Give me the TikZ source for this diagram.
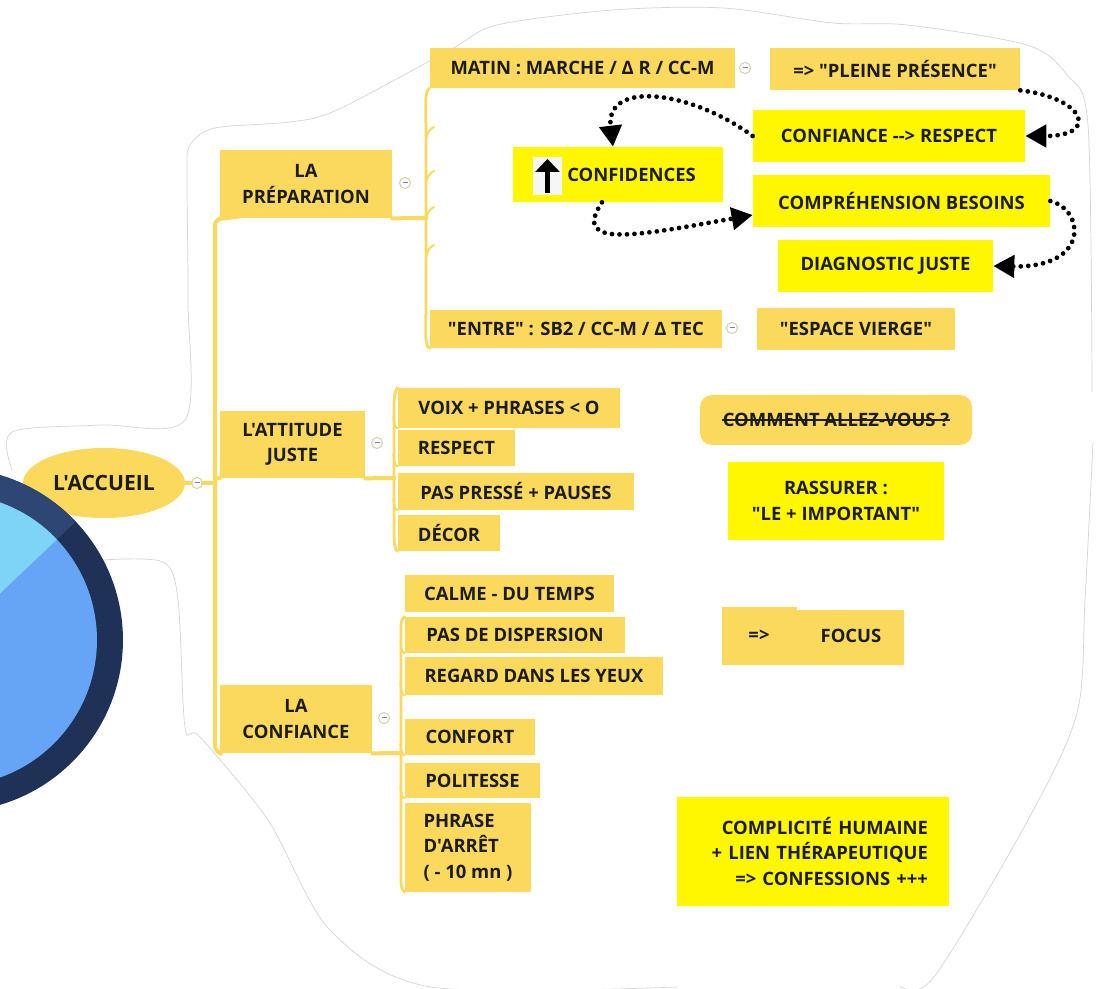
\documentclass[tikz,border=0pt]{standalone}
\usepackage{fontspec}
\setmainfont{Open Sans}[Ligatures=TeXOff]
\usetikzlibrary{arrows.meta,positioning,shapes.geometric}

\definecolor{mapgold}{RGB}{250,217,92}
\definecolor{hiyellow}{RGB}{255,247,0}
\definecolor{inkdark}{RGB}{28,28,28}
\definecolor{ringdark}{RGB}{31,49,87}
\definecolor{ringlight}{RGB}{45,70,115}
\definecolor{pieblue}{RGB}{102,164,246}
\definecolor{piecyan}{RGB}{126,212,245}
\definecolor{foldline}{RGB}{215,210,170}
\definecolor{foldbar}{RGB}{130,120,200}
\definecolor{blobline}{RGB}{212,212,212}

\newcommand{\px}{0.02cm}
\newcommand{\foldmark}{\textcolor{foldbar}{\rule[0.5pt]{0.1cm}{0.6pt}}}

\tikzstyle{lbox} = [rectangle, fill=mapgold, inner sep=0pt, align=center, text=inkdark, font=\bfseries\fontsize{10.5}{14.5}\selectfont]
\tikzstyle{ybox} = [lbox, fill=hiyellow]
\tikzstyle{fold} = [circle, draw=foldline, fill=white, line width=0.6pt, minimum size=11*\px, inner sep=0pt]
\tikzstyle{branch} = [draw=mapgold, line width=0.08cm, line cap=round]
\tikzstyle{twig} = [draw=mapgold, line width=0.055cm, line cap=round]
\tikzstyle{dotarrow} = [line width=0.095cm, dash pattern=on 0pt off 0.15cm, line cap=round, -{Triangle[length=0.42cm,width=0.44cm]}]

\begin{document}
\begin{tikzpicture}[x=\px, y=-\px]
    \useasboundingbox (0,0) rectangle (1096,989);
    \clip (0,0) rectangle (1096,989);
    \fill[white] (0,0) rectangle (1096,989);

    % contour decoupe
    \draw[blobline, line width=0.4pt] plot[smooth, tension=0.5] coordinates {(12,470) (12,432) (100,425) (185,420) (188,300) (187,175) (190,145) (215,128) (290,122) (337,110) (450,50) (497,25) (613,10) (723,8) (833,23) (907,25) (1027,45) (1067,75) (1088,125) (1092,392)};
    \draw[blobline, line width=0.4pt] plot[smooth, tension=0.5] coordinates {(1093,442) (1085,600) (1077,713) (1028,820) (934,977) (900,986)};
    \draw[blobline, line width=0.4pt] plot[smooth, tension=0.5] coordinates {(677,987) (431,987) (330,930) (268,820) (200,737) (185,727) (178,600) (163,562) (103,560)};

    % noeud central
    \node[ellipse, fill=mapgold, minimum width=162*\px, minimum height=70*\px, inner sep=0pt, text=inkdark, font=\bfseries\fontsize{12}{14}\selectfont] (accueil) at (104,483) {L'ACCUEIL};

    % premier niveau
    \node[lbox, minimum width=172*\px, minimum height=68*\px] (prep) at (306,184) {LA\\PRÉPARATION};
    \node[lbox, minimum width=145*\px, minimum height=67*\px] (attitude) at (292.5,444.5) {L'ATTITUDE\\JUSTE};
    \node[lbox, minimum width=152*\px, minimum height=68*\px] (confiance) at (296,719) {LA\\CONFIANCE};

    % la preparation
    \node[lbox, minimum width=305*\px, minimum height=40*\px] (matin) at (582.5,68) {MATIN : MARCHE / Δ R / CC-M};
    \node[lbox, minimum width=250*\px, minimum height=42*\px] (pleine) at (895,69) {=> "PLEINE PRÉSENCE"};
    \node[ybox, minimum width=272*\px, minimum height=52*\px] (conres) at (889,136) {CONFIANCE --> RESPECT};
    \node[ybox, minimum width=210*\px, minimum height=55*\px] (confid) at (618,174.5) {};
    \node[ybox, minimum width=297*\px, minimum height=52*\px] (compr) at (901.5,201) {COMPRÉHENSION BESOINS};
    \node[ybox, minimum width=215*\px, minimum height=52*\px] (diag) at (885.5,266) {DIAGNOSTIC JUSTE};
    \node[lbox, minimum width=292*\px, minimum height=38*\px] (entre) at (576,329) {"ENTRE" : SB2 / CC-M / Δ TEC};
    \node[lbox, minimum width=198*\px, minimum height=42*\px] (espace) at (856,329) {"ESPACE VIERGE"};

    \fill[white!93!gray] (533,157) rectangle (562,195);
    \draw[line width=0.11cm, -{Triangle[length=0.26cm,width=0.48cm]}] (547.5,193) -- (547.5,159);
    \node[lbox, fill=none, anchor=west] (confidtxt) at (567,174.5) {CONFIDENCES};

    % l'attitude juste
    \node[lbox, minimum width=222*\px, minimum height=40*\px] (voix) at (509,408) {VOIX + PHRASES < O};
    \node[lbox, minimum width=117*\px, minimum height=36*\px] (respect) at (456.5,448) {RESPECT};
    \node[lbox, minimum width=236*\px, minimum height=37*\px] (presse) at (516,491.5) {PAS PRESSÉ + PAUSES};
    \node[lbox, minimum width=102*\px, minimum height=36*\px] (decor) at (449,533) {DÉCOR};
    \node[lbox, rounded corners=0.24cm, minimum width=272*\px, minimum height=50*\px] (comment) at (836,420) {};
    \node[lbox, fill=none] (commenttxt) at (comment.center) {COMMENT ALLEZ-VOUS ?};
    \draw[inkdark, line width=0.035cm] (commenttxt.west) -- (commenttxt.east);
    \node[ybox, minimum width=216*\px, minimum height=78*\px] (rassurer) at (836,501) {RASSURER :\\"LE + IMPORTANT"};

    % la confiance
    \node[lbox, minimum width=209*\px, minimum height=37*\px] (calme) at (509.5,593.5) {CALME - DU TEMPS};
    \node[lbox, minimum width=220*\px, minimum height=36*\px] (disp) at (515,635) {PAS DE DISPERSION};
    \node[lbox, minimum width=258*\px, minimum height=38*\px] (regard) at (534,676) {REGARD DANS LES YEUX};
    \node[lbox, minimum width=130*\px, minimum height=36*\px] (confort) at (470,737) {CONFORT};
    \node[lbox, minimum width=135*\px, minimum height=35*\px] (polit) at (472.5,780.5) {POLITESSE};
    \node[lbox, align=left, minimum width=126*\px, minimum height=89*\px] (phrase) at (468,847.5) {PHRASE\\D'ARRÊT\\( - 10 mn )};
    \fill[mapgold] (722,607) rectangle (797,620);
    \node[lbox, minimum width=182*\px, minimum height=55*\px] (focus) at (813,637.5) {};
    \node[lbox, fill=none] (focusa) at (759,636) {=>};
    \node[lbox, fill=none] (focusb) at (851,636) {FOCUS};
    \node[ybox, align=right, text width=230*\px, minimum width=272*\px, minimum height=109*\px] (complic) at (813,851.5) {COMPLICITÉ HUMAINE\\+ LIEN THÉRAPEUTIQUE\\=> CONFESSIONS +++};

    % boutons replier
    \node[fold] (foldacc) at (197,483) {\foldmark};
    \node[fold] (foldprep) at (405,183) {\foldmark};
    \node[fold] (foldatt) at (377,443) {\foldmark};
    \node[fold] (foldconf) at (384,718) {\foldmark};
    \node[fold] (foldmatin) at (745,68) {\foldmark};
    \node[fold] (foldentre) at (732,328) {\foldmark};

    % branches
    \draw[branch] (accueil.east) -- (foldacc.west);
    \draw[branch] (foldacc.east) -- (215,483);
    \draw[branch, rounded corners=0.15cm] (prep.south west) -- (215,218) -- (215,753) -- (confiance.south west);
    \draw[branch] (215,478) -- (attitude.south west);
    \draw[branch] (prep.south east) -- (426,218);
    \draw[branch] (attitude.south east) -- (394,478);
    \draw[branch] (confiance.south east) -- (401,753);

    \draw[twig] (matin.south west) .. controls (424,90) and (426,110) .. (426,135) -- (426,300) .. controls (426,330) and (424,346) .. (entre.south west);
    \foreach \y in {132,176,212,250}
        \draw[twig, line width=0.04cm] (426,\y+8) .. controls (427,\y) and (430,\y-3) .. (434,\y-5);
    \draw[twig] (voix.north west) .. controls (394,392) and (394,400) .. (394,410) -- (394,530) .. controls (394,545) and (395,550) .. (decor.south west);
    \foreach \n in {voix,respect,presse}
        \draw[twig, line width=0.04cm] ([xshift=-0.08cm,yshift=0.25cm]\n.south west) .. controls +(0,-0.15cm) and +(-0.04cm,0) .. (\n.south west);
    \draw[twig] (disp.north west) .. controls (401,620) .. (401,635) -- (401,870) .. controls (401,888) .. (phrase.south west);
    \foreach \n in {disp,regard,confort,polit}
        \draw[twig, line width=0.04cm] ([xshift=-0.08cm,yshift=0.25cm]\n.south west) .. controls +(0,-0.15cm) and +(-0.04cm,0) .. (\n.south west);

    % fleches pointillees
    \draw[dotarrow] (pleine.south east) .. controls (1085,98) and (1100,136) .. (conres.east);
    \draw[dotarrow] (conres.west) .. controls (690,90) and (605,80) .. ([xshift=-0.1cm]confid.north);
    \draw[dotarrow] ([xshift=-0.32cm]confid.south) .. controls (570,250) and (640,235) .. ([yshift=-0.28cm]compr.west);
    \draw[dotarrow] (compr.east) .. controls (1085,210) and (1090,268) .. (diag.east);

    % anneau
    \fill[ringdark] (-49,640) circle[radius=3.44cm];
    \fill[ringlight] (-49,640) -- ++(43.5:3.44cm) arc[start angle=43.5, end angle=200, radius=3.44cm] -- cycle;
    \fill[pieblue] (-49,640) circle[radius=2.92cm];
    \fill[piecyan] (-49,640) -- ++(43.5:2.92cm) arc[start angle=43.5, end angle=200, radius=2.92cm] -- cycle;
\end{tikzpicture}
\end{document}
